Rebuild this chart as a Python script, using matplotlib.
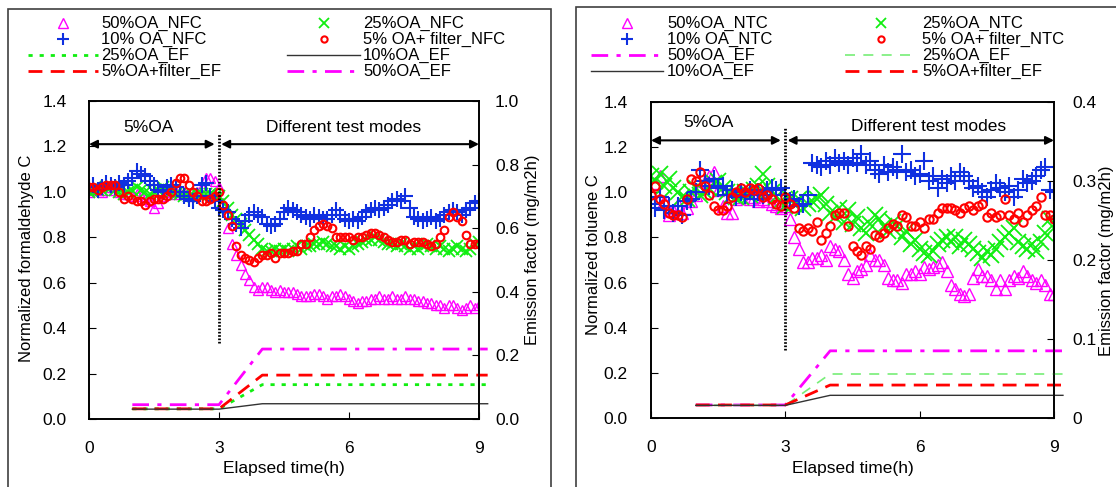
import numpy as np
import matplotlib
matplotlib.use('Agg')
import matplotlib.pyplot as plt
from matplotlib.lines import Line2D
from matplotlib.patches import Rectangle

plt.rcParams['font.family'] = ['Liberation Sans', 'DejaVu Sans']

W, H = 1116, 487
dt = 0.1  # sampling interval (h)

# normalized formaldehyde concentration (left panel), one value every 0.1 h from 0 to 9 h
hcho_50 = [1.00, 1.01, 1.01, 1.00, 1.01, 1.02, 1.01, 1.00, 0.99, 0.99,
           0.98, 0.99, 0.98, 0.97, 0.96, 0.93, 0.95, 0.98, 1.00, 0.99,
           1.00, 0.99, 1.00, 0.99, 0.98, 1.00, 1.02, 1.06, 1.06, 1.05,
           1.02, 0.95, 0.84, 0.77, 0.72, 0.68, 0.64, 0.61, 0.58, 0.57,
           0.58, 0.58, 0.57, 0.56, 0.57, 0.56, 0.56, 0.56, 0.55, 0.54,
           0.54, 0.54, 0.55, 0.55, 0.54, 0.53, 0.54, 0.54, 0.55, 0.54,
           0.53, 0.52, 0.51, 0.52, 0.52, 0.53, 0.53, 0.54, 0.53, 0.53,
           0.54, 0.53, 0.53, 0.54, 0.53, 0.53, 0.52, 0.52, 0.51, 0.51,
           0.50, 0.50, 0.49, 0.50, 0.50, 0.49, 0.48, 0.49, 0.50, 0.49, 0.50]
hcho_25 = [1.00, 1.00, 1.01, 1.01, 1.02, 1.02, 1.01, 1.00, 0.99, 1.00,
           1.01, 1.02, 1.01, 1.00, 0.99, 1.00, 1.01, 1.02, 1.01, 1.00,
           0.99, 0.99, 0.98, 0.98, 0.98, 0.99, 0.99, 0.99, 0.99, 0.98,
           0.98, 0.96, 0.93, 0.90, 0.88, 0.86, 0.83, 0.81, 0.79, 0.77,
           0.75, 0.74, 0.74, 0.75, 0.74, 0.75, 0.74, 0.75, 0.76, 0.75,
           0.76, 0.76, 0.77, 0.77, 0.78, 0.77, 0.76, 0.76, 0.75, 0.76,
           0.75, 0.76, 0.77, 0.78, 0.79, 0.79, 0.80, 0.79, 0.78, 0.77,
           0.77, 0.76, 0.77, 0.76, 0.75, 0.76, 0.75, 0.76, 0.77, 0.76,
           0.75, 0.76, 0.75, 0.74, 0.75, 0.76, 0.75, 0.74, 0.75, 0.77, 0.78]
hcho_10 = [1.02, 1.03, 1.01, 1.02, 1.04, 1.03, 1.02, 1.04, 1.03, 1.05,
           1.06, 1.09, 1.08, 1.07, 1.05, 1.03, 1.01, 1.00, 1.02, 1.03,
           1.02, 1.00, 0.98, 0.97, 0.96, 0.98, 1.03, 1.04, 0.98, 0.96,
           0.93, 0.92, 0.91, 0.88, 0.86, 0.84, 0.87, 0.90, 0.91, 0.90,
           0.89, 0.86, 0.85, 0.86, 0.88, 0.91, 0.93, 0.92, 0.91, 0.90,
           0.89, 0.88, 0.90, 0.89, 0.88, 0.88, 0.90, 0.92, 0.90, 0.88,
           0.87, 0.88, 0.87, 0.89, 0.91, 0.92, 0.93, 0.92, 0.93, 0.94,
           0.96, 0.97, 0.96, 0.98, 0.93, 0.89, 0.88, 0.87, 0.88, 0.89,
           0.87, 0.88, 0.90, 0.91, 0.92, 0.91, 0.90, 0.92, 0.93, 0.95, 0.96]
hcho_5f = [1.02, 1.02, 1.01, 1.02, 1.03, 1.03, 1.03, 1.00, 0.97, 0.98,
           0.97, 0.96, 0.96, 0.94, 0.96, 0.97, 0.97, 0.97, 0.98, 1.00,
           1.04, 1.06, 1.06, 1.03, 1.00, 0.98, 0.96, 0.96, 0.97, 0.98,
           1.00, 0.94, 0.90, 0.85, 0.76, 0.72, 0.71, 0.70, 0.69, 0.71,
           0.72, 0.72, 0.73, 0.71, 0.73, 0.73, 0.73, 0.74, 0.74, 0.77,
           0.77, 0.80, 0.83, 0.85, 0.86, 0.85, 0.84, 0.80, 0.80, 0.80,
           0.80, 0.79, 0.80, 0.80, 0.81, 0.82, 0.82, 0.81, 0.80, 0.79,
           0.78, 0.78, 0.79, 0.79, 0.77, 0.78, 0.78, 0.78, 0.77, 0.76,
           0.77, 0.80, 0.83, 0.89, 0.91, 0.89, 0.87, 0.81, 0.77, 0.77, 0.77]

# normalized toluene concentration (right panel)
tol_50 = [1.00, 1.04, 1.07, 0.96, 0.90, 0.92, 0.95, 0.91, 0.93, 0.96,
          0.99, 1.02, 1.05, 1.07, 1.09, 1.01, 0.94, 0.91, 0.91, 0.97,
          0.98, 1.00, 0.97, 0.98, 0.96, 0.97, 0.96, 0.95, 0.94, 0.93,
          0.94, 0.88, 0.80, 0.75, 0.69, 0.69, 0.71, 0.71, 0.72, 0.70,
          0.76, 0.75, 0.74, 0.70, 0.64, 0.62, 0.65, 0.66, 0.68, 0.72,
          0.70, 0.70, 0.68, 0.62, 0.61, 0.61, 0.60, 0.64, 0.64, 0.65,
          0.64, 0.67, 0.66, 0.67, 0.68, 0.69, 0.65, 0.59, 0.57, 0.55,
          0.54, 0.55, 0.62, 0.66, 0.63, 0.63, 0.61, 0.57, 0.61, 0.57,
          0.61, 0.63, 0.62, 0.65, 0.63, 0.61, 0.60, 0.61, 0.59, 0.55, 0.55]
tol_25 = [1.07, 1.05, 1.08, 1.03, 1.06, 1.02, 1.00, 0.98, 0.97, 1.00,
          1.02, 0.99, 1.00, 1.02, 1.04, 1.05, 1.02, 1.00, 0.99, 0.98,
          0.98, 1.00, 0.99, 1.01, 1.03, 1.08, 1.03, 1.00, 0.98, 0.96,
          0.94, 0.97, 0.95, 0.97, 0.93, 0.95, 0.96, 0.97, 0.99, 0.95,
          0.91, 0.89, 0.93, 0.87, 0.92, 0.86, 0.89, 0.84, 0.82, 0.86,
          0.90, 0.88, 0.85, 0.83, 0.87, 0.85, 0.80, 0.83, 0.77, 0.79,
          0.75, 0.73, 0.72, 0.74, 0.77, 0.79, 0.80, 0.78, 0.80, 0.76,
          0.79, 0.77, 0.75, 0.73, 0.71, 0.74, 0.72, 0.75, 0.78, 0.80,
          0.82, 0.84, 0.78, 0.76, 0.75, 0.77, 0.74, 0.78, 0.82, 0.88, 0.84]
tol_10 = [0.95, 0.93, 0.98, 0.92, 0.94, 0.91, 0.94, 0.90, 0.96, 0.97,
          1.00, 1.10, 1.05, 1.03, 1.06, 1.02, 1.03, 0.99, 1.01, 0.98,
          1.00, 0.99, 1.01, 0.97, 1.00, 0.99, 1.01, 1.02, 1.01, 1.02,
          0.99, 0.96, 0.97, 0.94, 0.95, 0.99, 1.13, 1.12, 1.11, 1.14,
          1.12, 1.15, 1.13, 1.14, 1.12, 1.15, 1.13, 1.17, 1.12, 1.14,
          1.10, 1.08, 1.12, 1.09, 1.11, 1.10, 1.17, 1.09, 1.10, 1.07,
          1.08, 1.14, 1.05, 1.07, 1.02, 1.06, 1.04, 1.07, 1.05, 1.09,
          1.07, 1.05, 1.02, 1.03, 1.00, 0.98, 1.01, 1.04, 1.02, 1.00,
          1.03, 0.98, 1.01, 1.06, 1.04, 1.05, 1.07, 1.10, 1.11, 1.01, 1.00]
tol_5f = [0.99, 1.03, 0.97, 0.95, 0.91, 0.90, 0.90, 0.89, 0.97, 1.06,
          1.05, 1.09, 1.03, 0.99, 0.94, 0.92, 0.92, 0.94, 0.98, 1.00,
          1.02, 1.00, 1.02, 1.01, 1.02, 0.98, 0.99, 0.97, 0.95, 0.94,
          0.98, 0.95, 0.93, 0.84, 0.83, 0.84, 0.83, 0.87, 0.79, 0.82,
          0.85, 0.90, 0.91, 0.91, 0.85, 0.76, 0.74, 0.72, 0.76, 0.75,
          0.81, 0.80, 0.82, 0.84, 0.86, 0.85, 0.90, 0.89, 0.85, 0.85,
          0.87, 0.84, 0.88, 0.88, 0.91, 0.93, 0.93, 0.93, 0.92, 0.91,
          0.93, 0.94, 0.92, 0.94, 0.95, 0.89, 0.91, 0.89, 0.90, 0.97,
          0.90, 0.88, 0.91, 0.87, 0.90, 0.92, 0.94, 0.98, 0.90, 0.90, 0.88]

# emission factors (mg/m2h), right axis
ef_t = [1, 3, 4, 9.2]
ef_hcho_50 = [0.045, 0.045, 0.220, 0.220]
ef_hcho_5f = [0.032, 0.032, 0.138, 0.138]
ef_hcho_25 = [0.032, 0.032, 0.108, 0.108]
ef_hcho_10 = [0.031, 0.031, 0.048, 0.048]
ef_tol_50 = [0.0165, 0.0165, 0.085, 0.085]
ef_tol_25 = [0.0160, 0.0160, 0.0557, 0.0557]
ef_tol_5f = [0.0165, 0.0165, 0.0417, 0.0417]
ef_tol_10 = [0.0160, 0.0160, 0.0287, 0.0287]

MAG = '#ff00ff'
BLUE = '#1030e0'
GREEN = '#11ee11'
LGREEN = '#77ee77'
RED = '#ff0000'
GREY = '#333333'

sty = {
    'tri': dict(ls='none', marker='^', mfc='none', mec=MAG, ms=6.5, mew=1.0),
    'x': dict(ls='none', marker='x', color=GREEN, ms=7.5, mew=1.3),
    'plus': dict(ls='none', marker='+', color=BLUE, ms=9, mew=1.5),
    'circ': dict(ls='none', marker='o', mfc='none', mec=RED, ms=4.5, mew=1.5),
    'ef50': dict(color=MAG, lw=2, dashes=(6, 3, 1.5, 3)),
    'ef25': dict(color=GREEN, lw=2, dashes=(1.5, 2.5)),
    'ef25b': dict(color=LGREEN, lw=1.2, dashes=(6, 5)),
    'ef5f': dict(color=RED, lw=2, dashes=(5, 3)),
    'ef10': dict(color=GREY, lw=1.0, ls='-'),
}


def fx(x):
    return x / W


def fy(y):
    return 1 - y / H


fig = plt.figure(figsize=(W / 100, H / 100), dpi=100)

# panel frames
fig.add_artist(Rectangle((fx(8), -0.05), fx(551 - 8), fy(9) + 0.05, transform=fig.transFigure,
                         fill=False, ec='#404040', lw=1.2))
fig.add_artist(Rectangle((fx(576), -0.05), 1.05 - fx(576), fy(7) + 0.05, transform=fig.transFigure,
                         fill=False, ec='#404040', lw=1.2))

panels = [
    dict(box=(89, 101, 479, 419), conc=(hcho_50, hcho_25, hcho_10, hcho_5f),
         ef=(ef_hcho_50, ef_hcho_25, ef_hcho_5f, ef_hcho_10), ef25='ef25',
         ms=dict(tri=7.5, x=9, plus=11, circ=5.5),
         ymax2=1.0, yt2=[0, 0.2, 0.4, 0.6, 0.8, 1.0], ylab2=['0.0', '0.2', '0.4', '0.6', '0.8', '1.0'],
         ylabel='Normalized formaldehyde C', ylx=27, yly=258, y2x=533, y2y=250,
         arr_y=1.21, txt=((1.38, 1.285), (5.88, 1.285)), vline=(0.335, 1.26),
         pad_l=16, pad_r=11.5),
    dict(box=(651, 102, 1054, 418), conc=(tol_50, tol_25, tol_10, tol_5f),
         ef=(ef_tol_50, ef_tol_25, ef_tol_5f, ef_tol_10), ef25='ef25b',
         ms=dict(tri=8.5, x=11, plus=12.5, circ=6),
         ymax2=0.4, yt2=[0, 0.1, 0.2, 0.3, 0.4], ylab2=['0', '0.1', '0.2', '0.3', '0.4'],
         ylabel='Normalized toluene C', ylx=593, yly=255, y2x=1107, y2y=261,
         arr_y=1.23, txt=((1.28, 1.31), (6.19, 1.29)), vline=(0.30, 1.29),
         pad_l=17, pad_r=13),
]

for p in panels:
    x0, y0, x1, y1 = p['box']
    ax = fig.add_axes([fx(x0), fy(y1), fx(x1 - x0), fy(y0) - fy(y1)])
    c50, c25, c10, c5f = p['conc']
    t = np.arange(len(c50)) * dt
    for key, vals in (('tri', c50), ('x', c25), ('plus', c10), ('circ', c5f)):
        st = dict(sty[key])
        st['ms'] = p['ms'][key]
        ax.plot(t, vals, **st)
    ax.set_xlim(0, 9)
    ax.set_ylim(0, 1.4)
    ax.set_xticks([0, 3, 6, 9])
    ax.set_yticks(np.arange(0, 1.41, 0.2))
    ax.set_yticklabels(['%.1f' % v for v in np.arange(0, 1.41, 0.2)])
    ax.tick_params(direction='in', length=5, labelsize=12.5, top=False, right=False)
    ax.tick_params(axis='y', pad=p['pad_l'])
    ax.tick_params(axis='x', pad=16)

    # annotations
    ax.annotate('', xy=(0, p['arr_y']), xytext=(2.9, p['arr_y']),
                arrowprops=dict(arrowstyle='<|-|>', color='black', lw=1.5, shrinkA=0, shrinkB=0,
                                mutation_scale=12))
    ax.annotate('', xy=(3.05, p['arr_y']), xytext=(9.0, p['arr_y']),
                arrowprops=dict(arrowstyle='<|-|>', color='black', lw=1.5, shrinkA=0, shrinkB=0,
                                mutation_scale=12))
    ax.text(*p['txt'][0], '5%OA', ha='center', va='center', fontsize=12.5)
    ax.text(*p['txt'][1], 'Different test modes', ha='center', va='center', fontsize=12.5)
    ax.plot([3, 3], p['vline'], color='black', lw=2, ls=(0, (0.6, 0.6)))

    ax2 = ax.twinx()
    e50, e25, e5f, e10 = p['ef']
    ax2.plot(ef_t, e50, clip_on=False, **sty['ef50'])
    ax2.plot(ef_t, e25, clip_on=False, **sty[p['ef25']])
    ax2.plot(ef_t, e5f, clip_on=False, **sty['ef5f'])
    ax2.plot(ef_t, e10, clip_on=False, **sty['ef10'])
    ax2.set_ylim(0, p['ymax2'])
    ax2.set_yticks(p['yt2'])
    ax2.set_yticklabels(p['ylab2'])
    ax2.tick_params(direction='in', length=5, labelsize=12.5, pad=p['pad_r'])
    ax2.set_xlim(0, 9)
    for a in (ax, ax2):
        for s in a.spines.values():
            s.set_linewidth(1.2)

    fig.text(fx(p['ylx']), fy(p['yly']), p['ylabel'], rotation=90, ha='center', va='center', fontsize=12)
    fig.text(fx(p['y2x']), fy(p['y2y']), 'Emission factor (mg/m2h)', rotation=90,
             ha='center', va='center', fontsize=12)
    fig.text(fx((x0 + x1) / 2), fy(468), 'Elapsed time(h)', ha='center', va='center', fontsize=12.5)

# legends drawn as figure artists at fixed pixel positions
rows = [23, 39, 55, 71]
legends = [
    (((28, 98), 101, [('tri', '50%OA_NFC'), ('plus', '10% OA_NFC'), ('ef25', '25%OA_EF'), ('ef5f', '5%OA+filter_EF')]),
     ((287, 360), 363, [('x', '25%OA_NFC'), ('circ', '5% OA+ filter_NFC'), ('ef10', '10%OA_EF'), ('ef50', '50%OA_EF')])),
    (((591, 663), 667, [('tri', '50%OA_NTC'), ('plus', '10% OA_NTC'), ('ef50', '50%OA_EF'), ('ef10', '10%OA_EF')]),
     ((845, 917), 922, [('x', '25%OA_NTC'), ('circ', '5% OA+ filter_NTC'), ('ef25b', '25%OA_EF'), ('ef5f', '5%OA+filter_EF')])),
]
for panel in legends:
    for (hx0, hx1), tx, entries in panel:
        for ry, (key, label) in zip(rows, entries):
            st = dict(sty[key])
            if st.get('ls') == 'none':
                xs, ys = [fx((hx0 + hx1) / 2)], [fy(ry)]
            else:
                xs, ys = [fx(hx0), fx(hx1)], [fy(ry), fy(ry)]
            fig.add_artist(Line2D(xs, ys, transform=fig.transFigure, **st))
            fig.text(fx(tx), fy(ry), label, ha='left', va='center', fontsize=12)

fig.savefig('out.png', dpi=100)
